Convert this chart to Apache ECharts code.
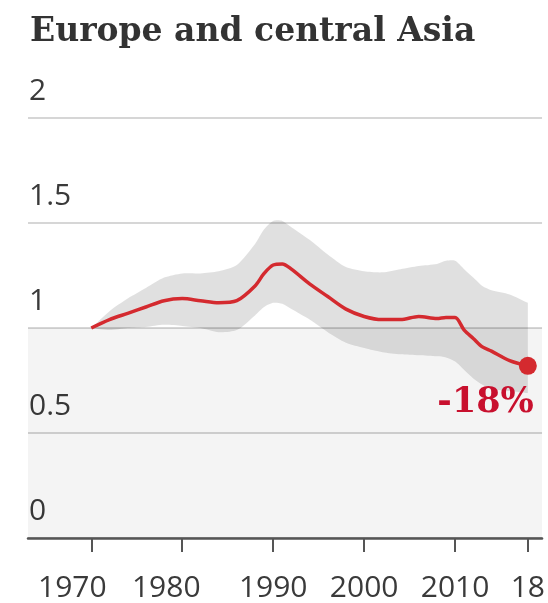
<!DOCTYPE html>
<html>
<head>
<meta charset="utf-8">
<script src="https://cdn.jsdelivr.net/npm/echarts@6/dist/echarts.min.js"></script>
<style>
html, body { margin: 0; padding: 0; background: #fff; }
#chart { width: 548px; height: 603px; }
</style>
</head>
<body>
<div id="chart"></div>
<script>
// index relative to 1970, with uncertainty band
let years = [1970, 1972, 1974, 1976, 1978, 1980, 1982, 1984, 1986, 1988, 1989, 1990, 1991, 1992, 1994,
             1996, 1998, 2000, 2002, 2004, 2006, 2008, 2009, 2010, 2011, 2012, 2013, 2014, 2016, 2018];
let index = [1.00, 1.04, 1.07, 1.10, 1.13, 1.14, 1.13, 1.12, 1.13, 1.20, 1.26, 1.30, 1.305, 1.28, 1.21,
             1.15, 1.09, 1.055, 1.04, 1.04, 1.055, 1.045, 1.05, 1.05, 0.99, 0.95, 0.91, 0.89, 0.845, 0.82];
let upper = [1.00, 1.08, 1.14, 1.19, 1.24, 1.26, 1.26, 1.27, 1.30, 1.40, 1.47, 1.51, 1.51, 1.48, 1.42,
             1.35, 1.29, 1.27, 1.265, 1.28, 1.295, 1.305, 1.32, 1.32, 1.28, 1.24, 1.20, 1.18, 1.16, 1.12];
let lower = [1.00, 0.99, 1.00, 1.005, 1.015, 1.01, 1.00, 0.98, 0.99, 1.06, 1.10, 1.12, 1.115, 1.09, 1.04,
             0.98, 0.93, 0.905, 0.885, 0.875, 0.87, 0.865, 0.86, 0.84, 0.80, 0.76, 0.73, 0.71, 0.70, 0.69];
let xTicks = [1970, 1980, 1990, 2000, 2010, 2018];

window.onload = function() {
    drawChart();
}

function drawChart() {
    var dom = document.getElementById('chart');
    var myChart = echarts.init(dom, null, { renderer: 'canvas' });
    let lastYear = years[years.length - 1];
    let lastVal = index[index.length - 1];
    let bandData = years.map((y, i) => [y, lower[i], upper[i]]);
    let lineData = years.map((y, i) => [y, index[i]]);
    let sans = '"Open Sans", "Noto Sans", sans-serif';
    let serif = '"DejaVu Serif", serif';

    let option = {
        animation: false,
        title: {
            text: 'Europe and central Asia',
            left: 25,
            top: 11,
            textStyle: { fontFamily: serif, fontWeight: 'bold', fontSize: 33, color: '#333' }
        },
        grid: { left: 28, right: 3, top: 118, bottom: 63 },
        xAxis: {
            type: 'value',
            min: 1963.04,
            max: 2019.56,
            splitLine: { show: false },
            axisLine: { lineStyle: { color: '#555', width: 2.5 } },
            axisTick: { customValues: xTicks, length: 14, lineStyle: { color: '#555', width: 2 } },
            axisLabel: {
                customValues: xTicks,
                margin: 35,
                fontFamily: sans,
                fontSize: 30,
                color: '#3a3a3a',
                formatter: function(v) {
                    let s = v == 2018 ? '18' : String(v);
                    if (v == 1970) return '{a|' + s + '}';
                    if (v == 1980) return '{b|' + s + '}';
                    return s;
                },
                rich: {
                    a: { fontFamily: sans, fontSize: 30, color: '#3a3a3a', padding: [0, 38, 0, 0] },
                    b: { fontFamily: sans, fontSize: 30, color: '#3a3a3a', padding: [0, 32, 0, 0] }
                }
            }
        },
        yAxis: {
            type: 'value',
            min: 0,
            max: 2,
            interval: 0.5,
            axisLine: { show: false },
            axisTick: { show: false },
            splitLine: { lineStyle: { color: '#d6d6d6', width: 2 } },
            axisLabel: {
                inside: true,
                margin: 1,
                align: 'left',
                verticalAlign: 'bottom',
                padding: [0, 0, 12, 0],
                fontFamily: sans,
                fontSize: 30,
                color: '#3a3a3a'
            }
        },
        series: [
            {
                type: 'custom',
                silent: true,
                z: 2,
                data: bandData,
                renderItem: function(params, api) {
                    if (params.dataIndex !== 0) return null;
                    let top = bandData.map(d => api.coord([d[0], d[2]]));
                    let bot = bandData.slice().reverse().map(d => api.coord([d[0], d[1]]));
                    // repeat the end points so the corners stay sharp
                    let pts = [top[0]].concat(top, [top[top.length - 1], bot[0]], bot, [bot[bot.length - 1]]);
                    return {
                        type: 'polygon',
                        shape: { points: pts, smooth: 0.25 },
                        style: { fill: 'rgba(0,0,0,0.12)' }
                    };
                },
                markArea: {
                    silent: true,
                    itemStyle: { color: 'rgba(0,0,0,0.045)' },
                    data: [[{ yAxis: 0 }, { yAxis: 1 }]]
                }
            },
            {
                type: 'line',
                z: 5,
                data: lineData,
                smooth: 0.3,
                symbol: 'none',
                lineStyle: { color: '#d42a2f', width: 3.5 }
            },
            {
                type: 'scatter',
                z: 6,
                data: [[lastYear, lastVal]],
                symbolSize: 18,
                itemStyle: { color: '#d42a2f', opacity: 1 },
                label: {
                    show: true,
                    position: 'bottom',
                    align: 'right',
                    distance: 11,
                    offset: [6, 0],
                    fontFamily: serif,
                    fontWeight: 'bold',
                    fontSize: 35,
                    color: '#c8102e',
                    formatter: function() {
                        return Math.round((lastVal - 1) * 100) + '%';
                    }
                }
            }
        ]
    };
    if (option && typeof option === "object") {
        myChart.setOption(option, true);
    }
}
</script>
</body>
</html>
